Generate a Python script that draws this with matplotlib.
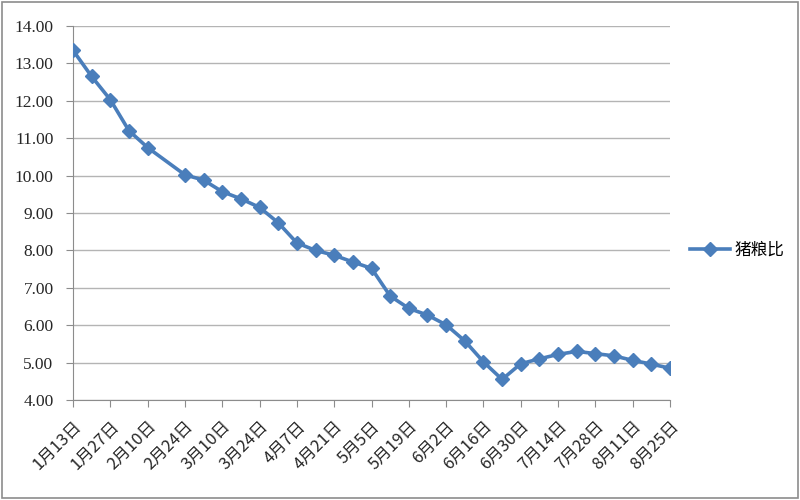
import pandas as pd
import matplotlib
matplotlib.use('Agg')
import matplotlib.pyplot as plt
from matplotlib.patches import Rectangle

plt.rcParams['font.family'] = ['Noto Sans CJK SC', 'DejaVu Sans']

# weekly data (2/17 missing in source)
dates = ['1-13', '1-20', '1-27', '2-3', '2-10', '2-24', '3-3', '3-10', '3-17', '3-24',
         '3-31', '4-7', '4-14', '4-21', '4-28', '5-5', '5-12', '5-19', '5-26', '6-2',
         '6-9', '6-16', '6-23', '6-30', '7-7', '7-14', '7-21', '7-28', '8-4', '8-11',
         '8-18', '8-25']
ratio = [13.35, 12.65, 12.03, 11.20, 10.75, 10.02, 9.88, 9.57, 9.38, 9.15,
         8.74, 8.20, 8.00, 7.87, 7.69, 7.52, 6.78, 6.45, 6.27, 6.01,
         5.58, 5.02, 4.55, 4.97, 5.10, 5.22, 5.30, 5.24, 5.18, 5.06,
         4.96, 4.85]
tick_dates = ['1-13', '1-27', '2-10', '2-24', '3-10', '3-24', '4-7', '4-21', '5-5',
              '5-19', '6-2', '6-16', '6-30', '7-14', '7-28', '8-11', '8-25']
series_name = '猪粮比'

x = pd.to_datetime(['2013-' + d for d in dates])
xt = pd.to_datetime(['2013-' + d for d in tick_dates])
xt_labels = [f'{t.month}月{t.day}日' for t in xt]

fig = plt.figure(figsize=(8, 5), dpi=100)
fig.patches.append(Rectangle((0.003, 0.004), 0.994, 0.992, transform=fig.transFigure,
                             fill=False, edgecolor='#8c8c8c', linewidth=1.2))
ax = fig.add_axes([73/800, 100/500, 597/800, 374/500])

ax.plot(x, ratio, color='#4a7ebb', linewidth=2.6, marker='D', markersize=7.5,
        markeredgewidth=1, markeredgecolor='#4a7ebb', label=series_name, zorder=3)

ax.set_ylim(4, 14)
ax.set_yticks(range(4, 15))
ax.set_yticklabels(['%.2f' % v for v in range(4, 15)], family='Liberation Serif',
                   fontsize=12.5, color='#262626')
ax.set_xlim(xt[0], xt[-1])
ax.set_xticks(xt)
ax.set_xticklabels(xt_labels, rotation=45, ha='right', rotation_mode='anchor',
                   fontsize=12, color='#262626')
ax.grid(axis='y', color='#b4b4b4', linewidth=1)
ax.set_axisbelow(True)
for s in ['top', 'right']:
    ax.spines[s].set_visible(False)
for s in ['left', 'bottom']:
    ax.spines[s].set_color('#8c8c8c')
ax.tick_params(axis='both', direction='out', length=5, color='#8c8c8c')
ax.tick_params(axis='y', pad=9)
ax.tick_params(axis='x', pad=8)

fig.legend(loc='center left', bbox_to_anchor=(675/800, 1 - 250/500), frameon=False,
           fontsize=12, handlelength=2.4, handletextpad=0.3)

plt.savefig('out.png', dpi=100)
